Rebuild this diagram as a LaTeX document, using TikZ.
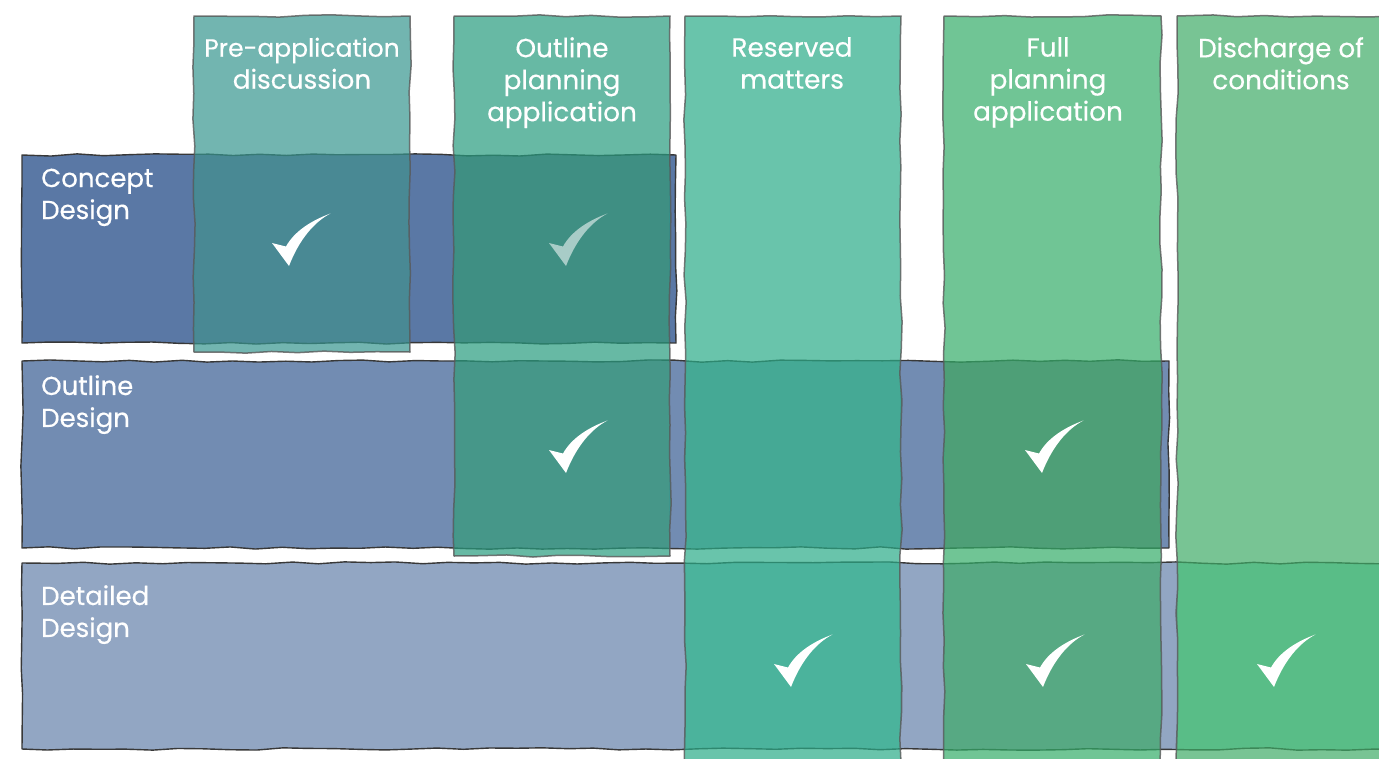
\documentclass[tikz,border=0pt]{standalone}
\usepackage{fontspec}
\setmainfont{Poppins}
\newfontfamily\labelfont[FakeBold=0.35]{Poppins}
\usetikzlibrary{decorations.pathmorphing}
\definecolor{barA}{RGB}{90,120,165}
\definecolor{barB}{RGB}{114,140,178}
\definecolor{barC}{RGB}{146,166,195}
\definecolor{colA}{RGB}{54,149,142}
\definecolor{colB}{RGB}{39,155,126}
\definecolor{colC}{RGB}{42,171,135}
\definecolor{colD}{RGB}{51,172,104}
\definecolor{colE}{RGB}{62,171,102}
\tikzset{
  wobble/.style={decorate,decoration={random steps,segment length=26pt,amplitude=1.2pt}},
  barline/.style={wobble,line join=round,draw=black!78,line width=1.4pt},
  colbox/.style={wobble,line join=round,draw=black!65,draw opacity=.8,fill opacity=.7,line width=1.5pt},
  collabel/.style={text=white,font=\labelfont\fontsize{26.3}{32}\selectfont,align=center,anchor=north,inner sep=0pt},
  rowlabel/.style={text=white,font=\labelfont\fontsize{26}{32}\selectfont,align=left,anchor=north west,inner sep=0pt},
  checkmark/.pic={\fill[white,pic actions] (0,0) -- (14,3.5) .. controls (22,-11) and (38,-22) .. (58.5,-29.5) .. controls (42,-21) and (27,-3) .. (17,23) -- cycle;}
}
% a row: #1 seed, #2 colour, #3 corner, #4 corner, #5 tint bands lying under the columns
\newcommand{\rowbar}[5]{%
  \pgfmathsetseed{#1}\path[wobble,fill=#2] #3 rectangle #4;
  \begin{scope}\pgfmathsetseed{#1}\path[wobble,clip] #3 rectangle #4;
    #5
  \end{scope}
  \pgfmathsetseed{#1}\path[barline] #3 rectangle #4;}
\newcommand{\band}[3]{\fill[#1] (#2,100) rectangle (#3,800);}
\begin{document}
\begin{tikzpicture}[x=1pt,y=-1pt]
\useasboundingbox (0,0) rectangle (1379,758);
\clip (0,0) rectangle (1379,758);
% rows
\rowbar{11}{barA}{(22,155)}{(676,343)}{%
  \definecolor{t}{RGB}{121,112,165}\band{t}{195}{409}%
  \definecolor{t}{RGB}{122,115,146}\band{t}{455}{669}}
\rowbar{12}{barB}{(22,361)}{(1169,548)}{%
  \definecolor{t}{RGB}{146,142,166}\band{t}{455}{669}%
  \definecolor{t}{RGB}{135,167,185}\band{t}{686}{900}%
  \definecolor{t}{RGB}{144,129,157}\band{t}{945}{1160}}
\rowbar{13}{barC}{(22,563)}{(1410,749)}{%
  \definecolor{t}{RGB}{155,198,208}\band{t}{686}{900}%
  \definecolor{t}{RGB}{174,162,197}\band{t}{945}{1160}%
  \definecolor{t}{RGB}{155,234,215}\band{t}{1178}{1420}}
% columns
\pgfmathsetseed{5}
\path[colbox,fill=colA] (194,16) rectangle (410,352);
\path[colbox,fill=colB] (454,16) rectangle (670,556);
\path[colbox,fill=colC] (685,16) rectangle (901,790);
\path[colbox,fill=colD] (944,16) rectangle (1161,790);
\path[colbox,fill=colE] (1177,16) rectangle (1420,790);
% labels
\node[collabel] (preapp) at (302,37.5) {{\fontsize{25}{32}\selectfont Pre-application}\\discussion};
\node[collabel] (outlineapp) at (562,37) {Outline\\planning\\application};
\node[collabel] (reserved) at (792,37) {Reserved\\matters};
\node[collabel] (fullapp) at (1048,37) {Full\\planning\\application};
\node[collabel] (discharge) at (1281,37) {Discharge of\\conditions};
\node[rowlabel] (concept) at (41,168.5) {Concept\\Design};
\node[rowlabel] (outline) at (41,375) {Outline\\Design};
\node[rowlabel] (detailed) at (41,585) {Detailed\\Design};
% ticks
\pic at (272,243) {checkmark};
\pic[fill opacity=.55] at (549,243) {checkmark};
\pic at (549,450) {checkmark};
\pic at (1025,450) {checkmark};
\pic at (774,664) {checkmark};
\pic at (1026,664) {checkmark};
\pic at (1257,664) {checkmark};
\end{tikzpicture}
\end{document}
